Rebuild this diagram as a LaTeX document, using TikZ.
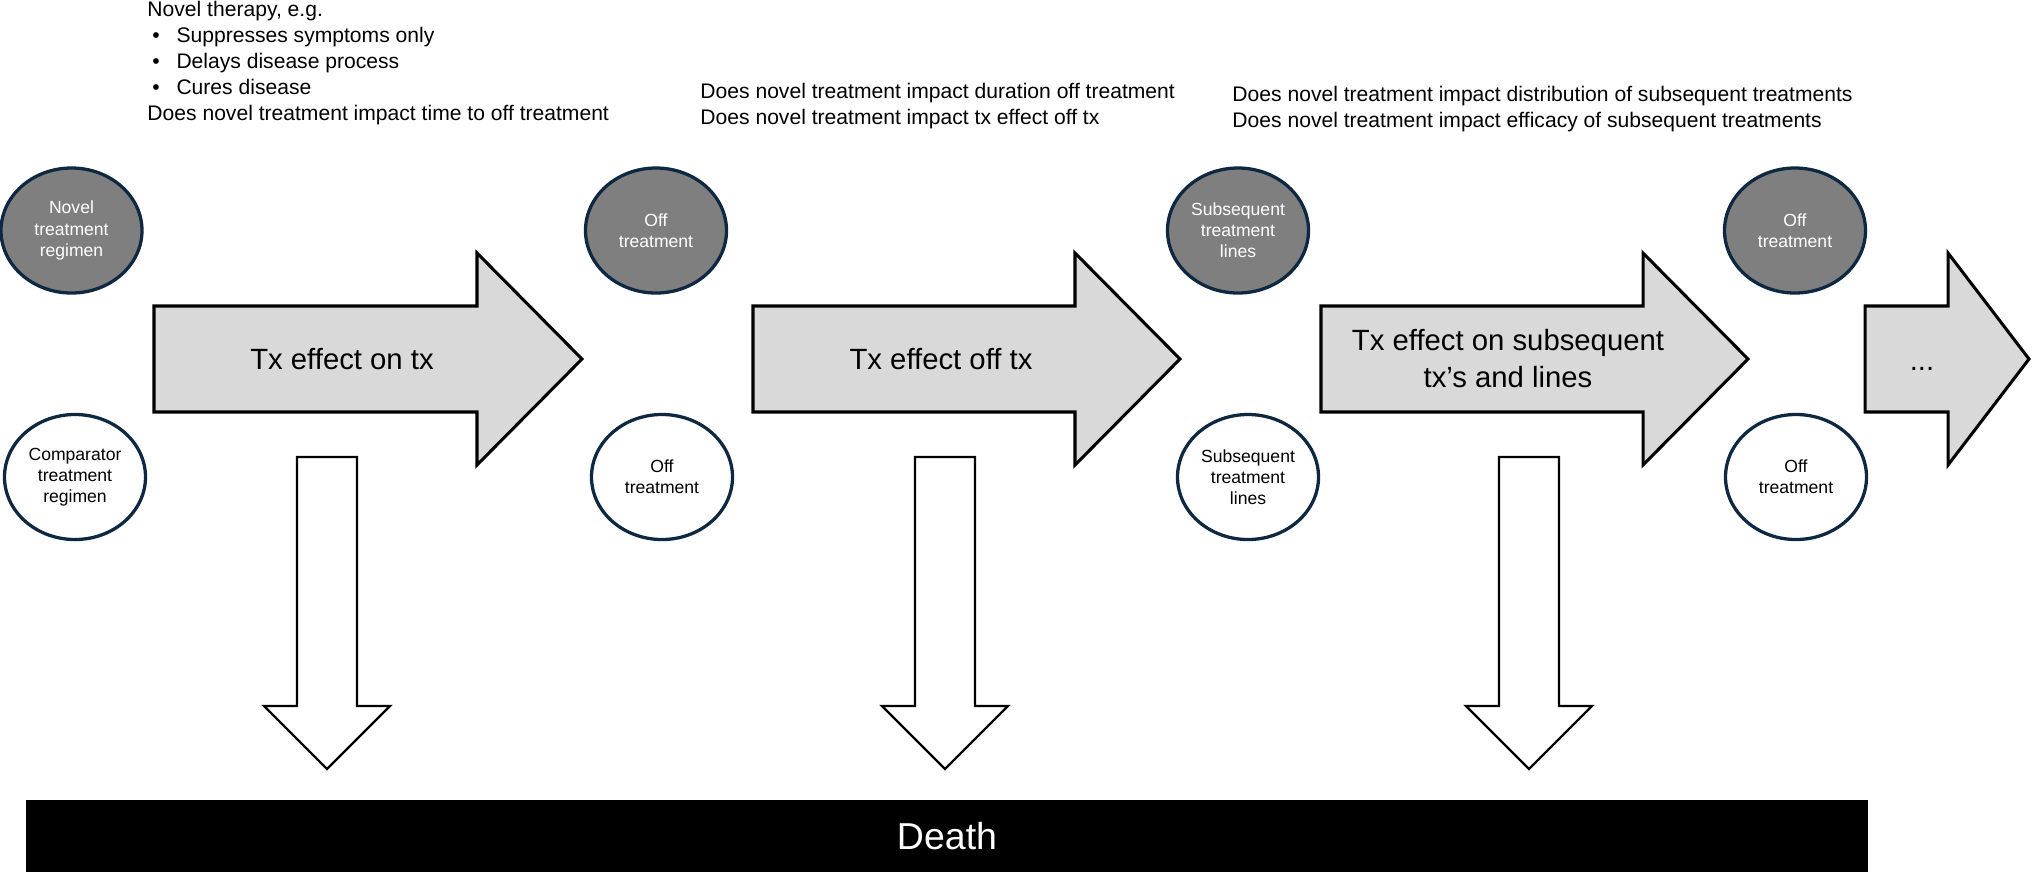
\documentclass[tikz,border=0pt]{standalone}
\usepackage{fontspec}
\setmainfont{Liberation Sans}
\usetikzlibrary{shapes.geometric}
\definecolor{stateline}{HTML}{0E2841}
\definecolor{novelfill}{HTML}{7F7F7F}
\definecolor{effectfill}{HTML}{D9D9D9}
\tikzset{
  state/.style={ellipse, draw=stateline, line width=1.4pt, minimum width=2.115cm,
    minimum height=1.875cm, inner sep=0pt, align=center, font=\fontsize{7.5}{9}\selectfont},
  novel/.style={state, fill=novelfill, text=white},
  comparator/.style={state, fill=white},
  effect/.style={draw=black, line width=1.3pt, fill=effectfill},
  effectlabel/.style={align=center, font=\fontsize{12.5}{15.8}\selectfont},
  question/.style={anchor=north west, inner sep=0pt, align=left, font=\fontsize{9}{11.1}\selectfont},
  deatharrow/.style={draw=black, line width=1pt, fill=white}
}
% bullet for the list of therapy types
\newcommand{\bul}{\hspace*{2.1pt}\makebox[10.3pt][l]{\textbullet}}
% big grey arrow: shaft start, head start, tip
\newcommand{\effectarrow}[3]{%
  \draw[effect] (#1,306) -- (#2,306) -- (#2,253) -- (#3,359) -- (#2,465) -- (#2,412) -- (#1,412) -- cycle;}
\begin{document}
\begin{tikzpicture}[x=0.015cm, y=-0.015cm]
    \useasboundingbox (0,0) rectangle (2032,872);
    % questions above each stage
    \node[question] (q1) at (147,1) {Novel therapy, e.g.\\
      \bul Suppresses symptoms only\\
      \bul Delays disease process\\
      \bul Cures disease\\
      Does novel treatment impact time to off treatment};
    \node[question] (q2) at (700,83) {Does novel treatment impact duration off treatment\\
      Does novel treatment impact tx effect off tx};
    \node[question] (q3) at (1232,86) {Does novel treatment impact distribution of subsequent treatments\\
      Does novel treatment impact efficacy of subsequent treatments};
    % novel arm (top row)
    \node[novel] (novel) at (71.5,230.5) {Novel\\treatment\\regimen};
    \node[novel] (noveloff) at (656,230.5) {Off\\treatment};
    \node[novel] (novelsub) at (1238,230.5) {Subsequent\\treatment\\lines};
    \node[novel] (noveloff2) at (1795,230.5) {Off\\treatment};
    % comparator arm (bottom row)
    \node[comparator] (comp) at (75,477) {Comparator\\treatment\\regimen};
    \node[comparator] (compoff) at (662,477) {Off\\treatment};
    \node[comparator] (compsub) at (1248,477) {Subsequent\\treatment\\lines};
    \node[comparator] (compoff2) at (1796,477) {Off\\treatment};
    % treatment effect arrows
    \effectarrow{154}{477}{582}
    \effectarrow{753}{1075}{1180}
    \effectarrow{1321}{1643}{1748}
    \effectarrow{1865}{1948}{2029}
    \node[effectlabel] (ontx) at (342,359) {Tx effect on tx};
    \node[effectlabel] (offtx) at (941,359) {Tx effect off tx};
    \node[effectlabel] (subtx) at (1508,359) {Tx effect on subsequent\\tx’s and lines};
    \node[effectlabel, anchor=base] (more) at (1922,370) {...};
    % arrows down to death
    \foreach \cx in {327,945,1529}
      \draw[deatharrow] (\cx-30,457) -- (\cx+30,457) -- (\cx+30,706) -- (\cx+63,706)
        -- (\cx,769) -- (\cx-63,706) -- (\cx-30,706) -- cycle;
    % death bar
    \node[fill=black, text=white, inner sep=0pt, minimum width=27.63cm, minimum height=1.08cm,
      font=\fontsize{16}{19}\selectfont] (death) at (947,836) {Death};
\end{tikzpicture}
\end{document}
